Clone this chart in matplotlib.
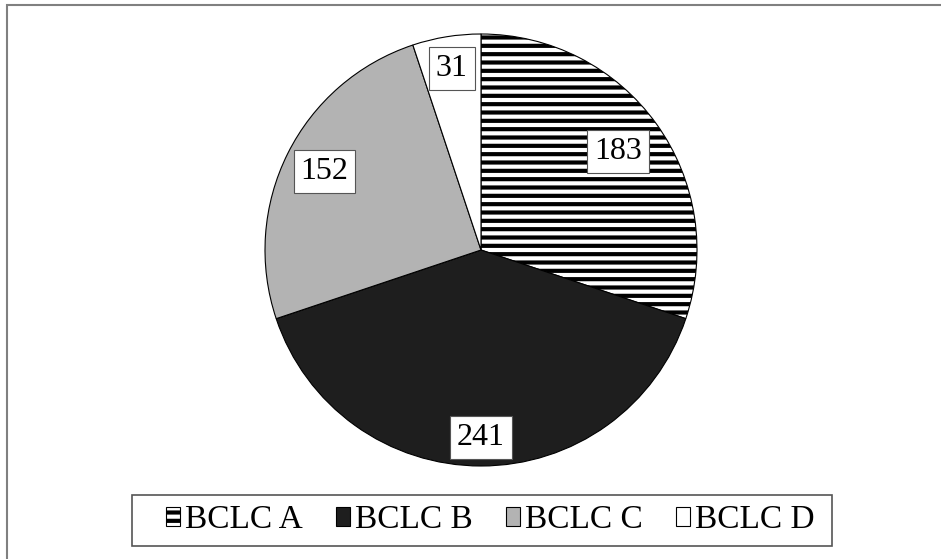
import matplotlib.pyplot as plt
from matplotlib.patches import Rectangle
import numpy as np

plt.rcParams['font.family'] = ['Liberation Serif', 'DejaVu Serif']
plt.rcParams['hatch.linewidth'] = 3.0
plt.rcParams['hatch.color'] = '#111111'

labels = ['BCLC A', 'BCLC B', 'BCLC C', 'BCLC D']
values = [183, 241, 152, 31]
colors = ['white', '#1e1e1e', '#b3b3b3', 'white']
hatches = ['--', '', '', '']

fig = plt.figure(figsize=(9.41, 5.59), dpi=100)

# outer chart frame
fig.patches.append(Rectangle((7 / 941, -0.05), 1.0, 1 - 5 / 559 + 0.05,
                             transform=fig.transFigure, fill=False,
                             edgecolor='#808080', linewidth=1.5))

ax = fig.add_axes([(481 - 216) / 941, (559 - 466) / 559, 432 / 941, 432 / 559])
wedges, _ = ax.pie(values, colors=colors, startangle=90, counterclock=False,
                   radius=1.0, wedgeprops=dict(edgecolor='black', linewidth=0.8))
for w, h in zip(wedges, hatches):
    w.set_hatch(h)
ax.set_xlim(-1, 1)
ax.set_ylim(-1, 1)
ax.set_aspect('equal')
ax.axis('off')

# value labels
dists = [0.78, 0.87, 0.81, 0.85]
for w, v, d in zip(wedges, values, dists):
    ang = np.deg2rad((w.theta1 + w.theta2) / 2)
    ax.text(d * np.cos(ang), d * np.sin(ang), str(v), ha='center', va='center',
            fontsize=23,
            bbox=dict(boxstyle='square,pad=0.22', facecolor='white',
                      edgecolor='#555555', linewidth=0.8))

# legend box drawn separately so it can be wider than the entries
fig.patches.append(Rectangle((132 / 941, 1 - 546 / 559), 700 / 941, 51 / 559,
                             transform=fig.transFigure, fill=False,
                             edgecolor='#555555', linewidth=1.2))
leg = fig.legend(wedges, labels, loc='center',
                 bbox_to_anchor=(490 / 941, 1 - 520 / 559),
                 ncol=4, fontsize=24, frameon=False,
                 handlelength=0.42, handleheight=0.5, handletextpad=0.15,
                 columnspacing=1.0, borderpad=0.0)

fig.savefig('out.png', dpi=100)
